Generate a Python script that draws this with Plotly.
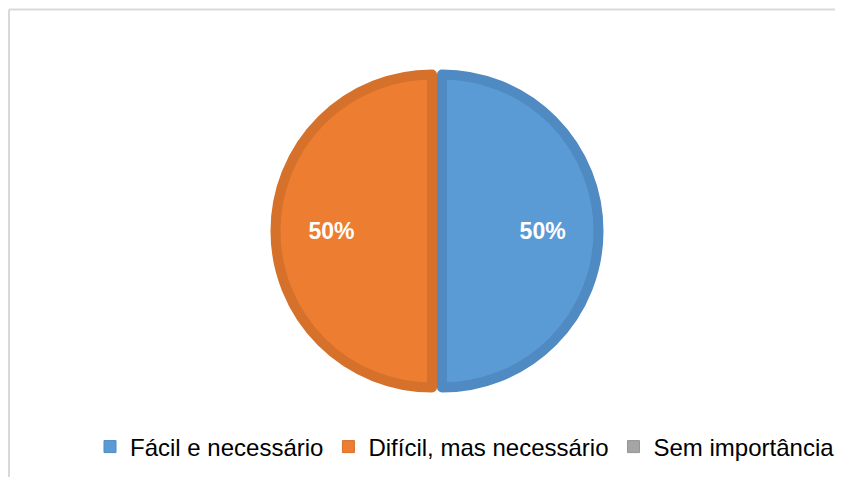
import plotly.graph_objects as go

# ---- data ----
labels = ["Fácil e necessário", "Difícil, mas necessário", "Sem importância"]
values = [50, 50, 0]

# ---- styles ----
fill_colors = ["#5B9BD5", "#ED7D31", "#A5A5A5"]
edge_colors = ["#4F8AC2", "#D6712B", "#959595"]
TRANSPARENT = "rgba(0,0,0,0)"

OFF = 8                         # page body margin
W, H = 843 - 2 * OFF, 485 - 2 * OFF
cx, cy_top = 437 - OFF, 231 - OFF   # pie centre in figure pixels
R = 156.5                       # stroke-centre radius
s = 5                           # pull offset in px
stroke = 10
pull_frac = s / R
half = R + s                    # plotly: r = half/(1+pull)
cy = H - cy_top
dom_x = [(cx - half) / W, (cx + half) / W]
dom_y = [(cy - half) / H, (cy + half) / H]

total = sum(values)
pct_text = [f"{v / total:.0%}" for v in values]
PAD = "\u00a0" * 7

fig = go.Figure()

# legend-only tiny pie (hidden underneath)
tiny = 1.0
fig.add_trace(go.Pie(
    labels=labels, values=[1, 1, 1], sort=False, direction="clockwise",
    marker=dict(colors=fill_colors, line=dict(color=edge_colors, width=1)),
    textinfo="none", hoverinfo="skip", showlegend=True,
    domain=dict(x=[(cx - tiny) / W, (cx + tiny) / W], y=[(cy - tiny) / H, (cy + tiny) / H]),
))

# one trace per visible slice
for i in range(len(labels)):
    if values[i] == 0:
        continue
    cols = [fill_colors[j] if j == i else TRANSPARENT for j in range(len(labels))]
    lcols = [edge_colors[j] if j == i else TRANSPARENT for j in range(len(labels))]
    # pad on the inner side so the visible text sits further out
    if i == 0:
        t = PAD + pct_text[i]
    else:
        t = pct_text[i] + PAD
    txt = [t if j == i else "" for j in range(len(labels))]
    pulls = [pull_frac if j == i else 0 for j in range(len(labels))]
    fig.add_trace(go.Pie(
        labels=labels, values=values, sort=False, direction="clockwise", rotation=0,
        marker=dict(colors=cols, line=dict(color=lcols, width=stroke)),
        text=txt, textinfo="text", textposition="inside",
        insidetextorientation="horizontal",
        textfont=dict(family="Liberation Sans, Arial", size=23, color="white", weight="bold"),
        pull=pulls, showlegend=False, hoverinfo="skip",
        domain=dict(x=dom_x, y=dom_y),
    ))

border = dict(color="#D9D9D9", width=2)
fig.update_layout(
    width=W, height=H,
    margin=dict(l=0, r=0, t=0, b=0, autoexpand=False),
    paper_bgcolor="white", plot_bgcolor="white",
    showlegend=True,
    legend=dict(
        orientation="h", x=82 / W, xanchor="left", y=(485 - 447 - OFF) / H, yanchor="middle",
        font=dict(family="Liberation Sans, Arial", size=24, color="black"),
        bgcolor="rgba(0,0,0,0)",
    ),
    shapes=[
        dict(type="line", xref="paper", yref="paper",
             x0=1 / W, x1=1, y0=1 - 1.5 / H, y1=1 - 1.5 / H, line=border, layer="below"),
        dict(type="line", xref="paper", yref="paper",
             x0=1 / W, x1=1 / W, y0=0, y1=1 - 1.5 / H, line=border, layer="below"),
    ],
)

fig.write_html("out.html")
